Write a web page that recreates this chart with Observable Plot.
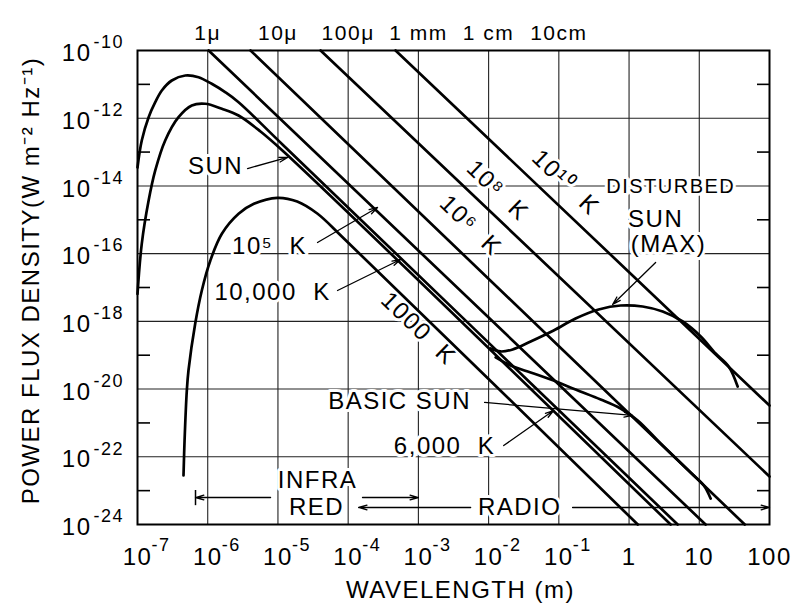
<!DOCTYPE html>
<html>
<head>
<meta charset="utf-8">
<script src="https://cdn.jsdelivr.net/npm/d3@7"></script>
<script src="https://cdn.jsdelivr.net/npm/@observablehq/plot@0.6"></script>
<style>
  html, body { margin: 0; padding: 0; background: #fff; }
  #chart svg { display: block; }
</style>
</head>
<body>
<div id="chart"></div>
<script>
// Solar and blackbody power flux density at the Earth.
// Each point is [wavelength (m), power flux density (W m^-2 Hz^-1)].

// Blackbody curves (peak, then Rayleigh-Jeans tail down to the lower edge)
const bb10000K = [
  [1.00e-7, 3.5e-14], [1.15e-7, 2.2e-13], [1.44e-7, 1.07e-12], [1.79e-7, 2.97e-12],
  [2.22e-7, 6.6e-12], [3.08e-7, 1.3e-11], [4.79e-7, 1.83e-11], [7.4e-7, 1.63e-11],
  [1.14e-6, 1.04e-11], [1.77e-6, 5.9e-12], [2.75e-6, 2.97e-12], [1.2e-5, 1.57e-13],
  [4.92, 1e-24]
];
const bb6000K = [
  [1.00e-7, 6.5e-18], [1.15e-7, 1.95e-16], [1.44e-7, 3.7e-15], [1.79e-7, 2.86e-14],
  [2.48e-7, 2.2e-13], [3.84e-7, 1.07e-12], [5.93e-7, 2.38e-12], [9.2e-7, 2.67e-12],
  [1.59e-6, 1.9e-12], [2.75e-6, 1.2e-12], [5.65e-6, 4.05e-13], [1.2e-5, 1.04e-13],
  [3.91, 1e-24]
];
const bb1000K = [
  [4.52e-7, 2.8e-23], [4.68e-7, 3.03e-22], [5.04e-7, 9.08e-21], [5.32e-7, 3.53e-20],
  [6.63e-7, 8.47e-19], [8.24e-7, 8.15e-18], [1.09e-6, 6.27e-17], [1.59e-6, 3.85e-16],
  [2.75e-6, 1.5e-15], [4.54e-6, 2.96e-15], [9.78e-6, 4.46e-15], [1.88e-5, 3.47e-15],
  [3.63e-5, 1.53e-15], [8.69e-5, 2.8e-16], [1.33, 1e-24]
];

// Rayleigh-Jeans lines for hotter brightness temperatures
const rj1e5K  = [[1.03e-6, 1e-10], [12.3, 1e-24]];
const rj1e6K  = [[4.07e-6, 1e-10], [44.4, 1e-24]];
const rj1e8K  = [[4.05e-5, 1e-10], [100, 2.62e-23]];
const rj1e10K = [[4.73e-4, 1e-10], [100, 3.27e-21]];

// Radio spectrum of the Sun
const disturbedSun = [
  [1.07e-2, 1.58e-19], [1.48e-2, 1.29e-19], [2.2e-2, 1.48e-19], [3.97e-2, 2.54e-19],
  [8.43e-2, 5.37e-19], [0.173, 1.21e-18], [0.369, 2.24e-18], [0.759, 2.94e-18],
  [1.56, 2.75e-18], [3.01, 1.95e-18], [5.81, 9.9e-19], [10.5, 3.57e-19],
  [17.1, 1.12e-19], [26.2, 4.65e-20], [35.2, 1.19e-20]
];
const basicSun = [
  [1.26e-2, 8.6e-20], [2.06e-2, 4.97e-20], [3.97e-2, 3.09e-20], [8.43e-2, 1.79e-20],
  [0.173, 9.7e-21], [0.394, 4.92e-21], [0.759, 2.67e-21], [1.33, 1.18e-21],
  [2.82, 2.47e-22], [7.54, 3.44e-23], [11.6, 1.42e-23], [14.5, 5.86e-24]
];

// Axes: decade exponents and grid values
const xExponents = [-7, -6, -5, -4, -3, -2, -1];
const xPlainTicks = [1, 10, 100];
const yExponents = [-10, -12, -14, -16, -18, -20, -22, -24];
const xGrid = [1e-6, 1e-5, 1e-4, 1e-3, 1e-2, 1e-1, 1, 10];
const yGrid = [1e-12, 1e-14, 1e-16, 1e-18, 1e-20, 1e-22];
const yMinor = [1e-11, 1e-13, 1e-15, 1e-17, 1e-19, 1e-21, 1e-23];
const topTicks = [1e-6, 1e-5, 1e-4, 1e-3, 1e-2, 1e-1];
const topTickNames = ["1\u03bc", "10\u03bc", "100\u03bc", "1 mm", "1 cm", "10cm"];

// Annotations (positions in wavelength / flux units)
const notes = [
  {text: "SUN", lambda: 1.29e-6, flux: 3.75e-14},
  {text: "10\u2075  K", lambda: 7.59e-6, flux: 1.63e-16},
  {text: "10,000  K", lambda: 8.37e-6, flux: 7.11e-18},
  {text: "SUN", lambda: 2.39, flux: 1.05e-15},
  {text: "(MAX)", lambda: 3.66, flux: 1.86e-16},
  {text: "BASIC SUN", lambda: 5.4e-4, flux: 4.3e-21},
  {text: "6,000  K", lambda: 2.36e-3, flux: 2.01e-22},
  {text: "INFRA", lambda: 3.66e-5, flux: 2.0e-23},
  {text: "RED", lambda: 3.55e-5, flux: 3.18e-24},
  {text: "RADIO", lambda: 2.77e-2, flux: 3.18e-24}
];
const condensedNotes = [
  {text: "DISTURBED", lambda: 3.92, flux: 9.6e-15}
];
const slopeNotes = [
  {text: "1000  K", lambda: 1e-3, flux: 6.15e-19},
  {text: "10\u2076  K", lambda: 5.55e-3, flux: 6.78e-16},
  {text: "10\u2078  K", lambda: 1.34e-2, flux: 7.33e-15},
  {text: "10\u00b9\u2070  K", lambda: 0.125, flux: 1.26e-14}
];
const arrows = [
  {from: [3.69e-6, 3.27e-14], to: [1.37e-5, 6.92e-14]},
  {from: [3.66e-5, 2.13e-16], to: [2.62e-4, 2.31e-15]},
  {from: [7.06e-5, 8.15e-18], to: [5.57e-4, 6.71e-17]},
  {from: [2.39, 5.47e-17], to: [0.583, 3.15e-18]},
  {from: [8.77e-3, 4.02e-21], to: [1.12, 1.66e-21]},
  {from: [1.64e-2, 2.15e-22], to: [8.43e-2, 2.33e-21]},
  {from: [7.85e-6, 6.27e-24], to: [6.7e-7, 6.27e-24]},
  {from: [1.6e-4, 6.27e-24], to: [1e-3, 6.27e-24]},
  {from: [5.55e-3, 3.18e-24], to: [1.41e-4, 3.18e-24]},
  {from: [0.157, 3.18e-24], to: [100, 3.18e-24]}
];
const infraredStart = [{lambda: 6.7e-7, top: 1.01e-23, bottom: 3.6e-24}];

const series = [
  {name: "10,000 K", points: bb10000K},
  {name: "6000 K", points: bb6000K},
  {name: "1000 K", points: bb1000K},
  {name: "1e5 K", points: rj1e5K},
  {name: "1e6 K", points: rj1e6K},
  {name: "1e8 K", points: rj1e8K},
  {name: "1e10 K", points: rj1e10K},
  {name: "disturbed sun", points: disturbedSun},
  {name: "basic sun", points: basicSun}
];
const rows = series.flatMap(s => s.points.map(([lambda, flux]) => ({name: s.name, lambda, flux})));

const font = "'Liberation Sans', Arial, sans-serif";
const mid = {lineAnchor: "middle"};

const chart = Plot.plot({
  width: 795,
  height: 605,
  marginLeft: 137,
  marginRight: 26,
  marginTop: 50,
  marginBottom: 81,
  x: {type: "log", domain: [1e-7, 100], axis: null},
  y: {type: "log", domain: [1e-24, 1e-10], axis: null},
  style: {fontFamily: font, background: "white", color: "black", letterSpacing: "1.5px", overflow: "visible"},
  marks: [
    // grid
    Plot.ruleX(xGrid, {stroke: "#222", strokeWidth: 1.1}),
    Plot.ruleY(yGrid, {stroke: "#222", strokeWidth: 1.1}),
    // minor ticks on both vertical edges
    Plot.axisY(yMinor, {anchor: "right", frameAnchor: "left", tickSize: 12, fill: "none", label: null, strokeWidth: 1.6}),
    Plot.axisY(yMinor, {anchor: "left", frameAnchor: "right", tickSize: 12, fill: "none", label: null, strokeWidth: 1.6}),

    // in-plot labels, with white halo
    Plot.text(notes, {...mid, x: "lambda", y: "flux", text: "text", fontSize: 24, stroke: "white", strokeWidth: 6, fill: "black"}),
    Plot.text(condensedNotes, {...mid, x: "lambda", y: "flux", text: "text", fontSize: 20, stroke: "white", strokeWidth: 6, fill: "black", ariaLabel: "condensed"}),
    Plot.text(slopeNotes, {...mid, x: "lambda", y: "flux", text: "text", rotate: 44, fontSize: 24, stroke: "white", strokeWidth: 6, fill: "black"}),

    // spectra
    Plot.line(rows, {x: "lambda", y: "flux", z: "name", curve: "catmull-rom", stroke: "black", strokeWidth: 2.7}),

    // pointers and band arrows
    Plot.arrow(arrows, {
      x1: d => d.from[0], y1: d => d.from[1], x2: d => d.to[0], y2: d => d.to[1],
      headLength: 10, headAngle: 32, strokeWidth: 1.3, stroke: "black", ariaLabel: "pointer"
    }),
    Plot.ruleX(infraredStart, {x: "lambda", y1: "top", y2: "bottom", strokeWidth: 1.5}),

    Plot.frame({stroke: "black", strokeWidth: 2}),

    // y tick labels: 10 with raised exponent
    Plot.text(yExponents, {...mid, frameAnchor: "left", y: d => Math.pow(10, d), text: () => "10", textAnchor: "end", dx: -46, dy: 3, fontSize: 24, ariaLabel: "tick"}),
    Plot.text(yExponents, {...mid, frameAnchor: "left", y: d => Math.pow(10, d), text: d => "-" + (-d), textAnchor: "start", dx: -44, dy: -8, fontSize: 18, ariaLabel: "tick"}),
    // x tick labels
    Plot.text(xExponents, {...mid, frameAnchor: "bottom", x: d => Math.pow(10, d), text: () => "10", textAnchor: "middle", dy: 33, fontSize: 24, ariaLabel: "tick"}),
    Plot.text(xExponents, {...mid, frameAnchor: "bottom", x: d => Math.pow(10, d), text: d => "-" + (-d), textAnchor: "start", dx: 14, dy: 21, fontSize: 18, ariaLabel: "tick"}),
    Plot.text(xPlainTicks, {...mid, frameAnchor: "bottom", x: d => d, text: d => String(d), textAnchor: "middle", dy: 33, fontSize: 24, ariaLabel: "tick"}),
    // wavelength names along the top
    Plot.text(topTicks, {...mid, frameAnchor: "top", x: d => d, text: (d, i) => topTickNames[i], textAnchor: "middle", dy: -17, fontSize: 21}),

    // axis titles
    Plot.text(["WAVELENGTH (m)"], {...mid, frameAnchor: "bottom", text: d => d, textAnchor: "middle", dx: 7, dy: 66, fontSize: 24}),
    Plot.text(["POWER FLUX DENSITY(W m\u207b\u00b2 Hz\u207b\u00b9)"], {...mid, frameAnchor: "left", text: d => d, textAnchor: "middle", rotate: -90, dx: -106, dy: -7, fontSize: 24, ariaLabel: "y-title"})
  ]
});

const svg = d3.select(chart);
svg.selectAll('[aria-label="y-title"] text').attr("letter-spacing", "2.2px");
svg.selectAll('[aria-label="condensed"] text').attr("letter-spacing", "0.5px");
svg.selectAll('[aria-label="tick"] text').attr("letter-spacing", "0.5px");
// solid arrowheads
svg.selectAll('[aria-label="pointer"] path').attr("fill", "black").attr("stroke-linejoin", "miter");

document.getElementById("chart").append(chart);
</script>
</body>
</html>
